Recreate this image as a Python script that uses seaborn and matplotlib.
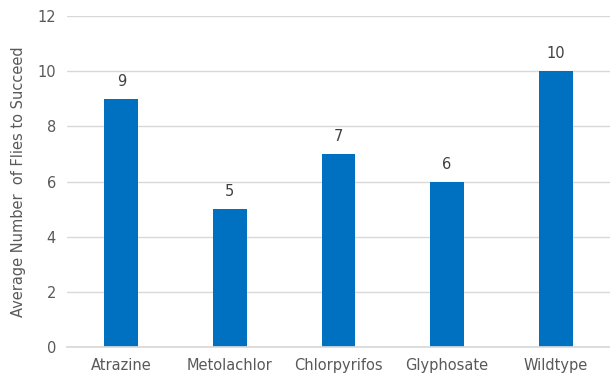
import matplotlib
matplotlib.use("Agg")
import matplotlib.pyplot as plt
import seaborn as sns
import pandas as pd

treatments = ["Atrazine", "Metolachlor", "Chlorpyrifos", "Glyphosate", "Wildtype"]
avg_flies = [9, 5, 7, 6, 10]
y_ticks = [0, 2, 4, 6, 8, 10, 12]

df = pd.DataFrame({"treatment": treatments, "flies": avg_flies})

sns.set_theme(style="white")
plt.rcParams["font.family"] = ["Liberation Sans Narrow", "DejaVu Sans"]
text_color = "#595959"

fig = plt.figure(figsize=(6.1, 3.75), dpi=100)
ax = fig.add_axes([67 / 610, 28 / 375, 543 / 610, 331 / 375])

sns.barplot(data=df, x="treatment", y="flies", color="#0070C0", width=0.31,
            saturation=1, linewidth=0, ax=ax, zorder=3)

for i, v in enumerate(avg_flies):
    ax.annotate(str(v), (i, v), xytext=(0, 7), textcoords="offset points",
                ha="center", va="bottom", fontsize=10.5, color="#404040")

ax.set_ylim(0, 12)
ax.set_yticks(y_ticks)
ax.set_xlim(-0.5, len(treatments) - 0.5)
ax.yaxis.grid(True, color="#D9D9D9", linewidth=1, zorder=0)
for side in ["top", "right", "left"]:
    ax.spines[side].set_visible(False)
ax.spines["bottom"].set_color("#D9D9D9")
ax.spines["bottom"].set_zorder(4)
ax.tick_params(axis="both", length=0, labelsize=10.5, labelcolor=text_color, pad=8)
ax.set_xlabel("")
ax.set_ylabel("Average Number  of Flies to Succeed", fontsize=10.5, color=text_color, labelpad=8)

fig.savefig("out.png", dpi=100)
